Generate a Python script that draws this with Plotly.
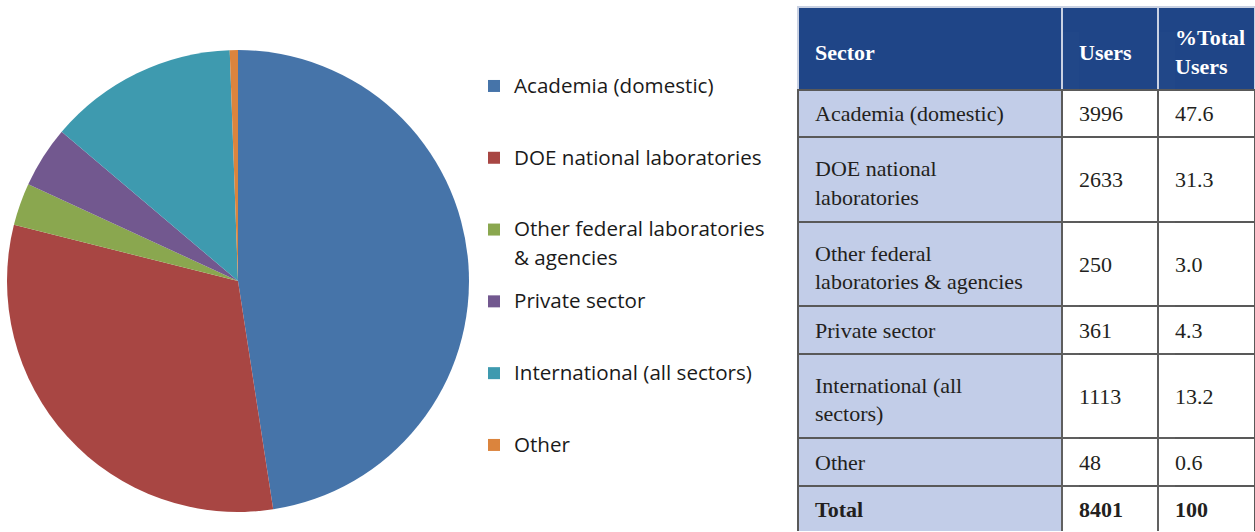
import plotly.graph_objects as go

# sector user counts
sectors = ["Academia (domestic)", "DOE national laboratories",
           "Other federal laboratories & agencies", "Private sector",
           "International (all sectors)", "Other"]
users = [3996, 2633, 250, 361, 1113, 48]
pct_total = ["47.6", "31.3", "3.0", "4.3", "13.2", "0.6"]
total_users = "8401"
total_pct = "100"

# legend names with the line break used in the original
legend_names = ["Academia (domestic)", "DOE national laboratories",
                "Other federal laboratories<br>& agencies", "Private sector",
                "International (all sectors)", "Other"]

# table text, wrapped as in the original
table_header = ["<b>Sector</b>", "<b>Users</b>", "<b>%Total<br>Users</b>"]
table_sectors = ["Academia (domestic)", "DOE national<br>laboratories",
                 "Other federal<br>laboratories & agencies", "Private sector",
                 "International (all<br>sectors)", "Other", "<b>Total</b>"]
table_users = [str(u) for u in users] + ["<b>" + total_users + "</b>"]
table_pct = pct_total + ["<b>" + total_pct + "</b>"]

colors = ["#4674A9", "#A84643", "#8AA74F", "#72588F", "#3E9AAF", "#DB843D"]

W, H = 1255, 532

# legend entries padded to three lines so they are spread evenly
legend_labels = []
for name in legend_names:
    lines = name.split("<br>")
    text = "<span style='font-size:20.6px'>" + lines[0] + "</span>"
    for extra in lines[1:]:
        text += "<br><span style='font-size:20.6px; baseline-shift:-6px'>" + extra + "</span>"
    legend_labels.append(text + "<br> " * (3 - len(lines)))

fig = go.Figure()

fig.add_trace(go.Pie(
    labels=legend_labels,
    values=users,
    sort=False,
    direction="clockwise",
    rotation=0,
    marker=dict(colors=colors, line=dict(width=0)),
    textinfo="none",
    hovertext=sectors,
    hoverinfo="text+value+percent",
    domain=dict(x=[7 / W, 469 / W], y=[1 - 512 / H, 1 - 50 / H]),
))

# table: one trace per row so each row gets its own height,
# text drawn on top cell by cell so it can be centred vertically
row_h = [83, 47, 85, 84, 48, 84, 48, 46]
table_x0, table_y0 = 798, 7
col_w = [264, 96, W - table_x0 - 360]
font_size = 22
line_gap = 1.3 * font_size
rows = [table_header] + [list(r) for r in zip(table_sectors, table_users, table_pct)]
tops = [table_y0 + sum(row_h[:i]) for i in range(len(rows))]
col_x = [table_x0 + sum(col_w[:j]) for j in range(len(col_w))]

order = list(range(1, len(rows))) + [0]   # header drawn last so its light rule shows
for i in order:
    is_head = i == 0
    fig.add_trace(go.Table(
        domain=dict(x=[table_x0 / W, 1], y=[max(0, 1 - (tops[i] + row_h[i]) / H), 1 - tops[i] / H]),
        columnwidth=col_w,
        header=dict(
            values=["", "", ""],
            fill_color=["#1F4587"] * 3 if is_head else ["#C2CDE8", "white", "white"],
            line=dict(color="#C9D1E2" if is_head else "#595959", width=2),
            height=row_h[i],
        ),
        cells=dict(values=[]),
    ))

for i, row in enumerate(rows):
    for j, value in enumerate(row):
        n_lines = value.count("<br>") + 1
        shift = row_h[i] / 2 - (n_lines - 1) * line_gap / 2 - 17
        shift = min(shift, H - tops[i] - 43)
        x_right = col_x[j + 1] if j + 1 < len(col_x) else W
        fig.add_trace(go.Table(
            domain=dict(x=[(col_x[j] + 9) / W, x_right / W], y=[0, 1 - (tops[i] + shift) / H]),
            header=dict(
                values=[value],
                fill_color="rgba(0,0,0,0)",
                line=dict(width=0),
                font=dict(family="Liberation Serif", size=font_size,
                          color="white" if i == 0 else "#231F20"),
                align="left",
                height=1,
            ),
            cells=dict(values=[]),
        ))

fig.update_layout(
    width=W,
    height=H,
    margin=dict(l=0, r=0, t=0, b=0),
    paper_bgcolor="white",
    showlegend=True,
    legend=dict(
        x=474 / W, y=1 - 68 / H, xanchor="left", yanchor="top",
        valign="top",
        font=dict(family="Open Sans", size=17.64, color="#1A1A1A"),
        bgcolor="rgba(0,0,0,0)",
    ),
)

# drop the default page margin so the figure fills the window
fig.write_html("out.html", config={"displayModeBar": False},
               post_script="document.body.style.margin = '0';")
